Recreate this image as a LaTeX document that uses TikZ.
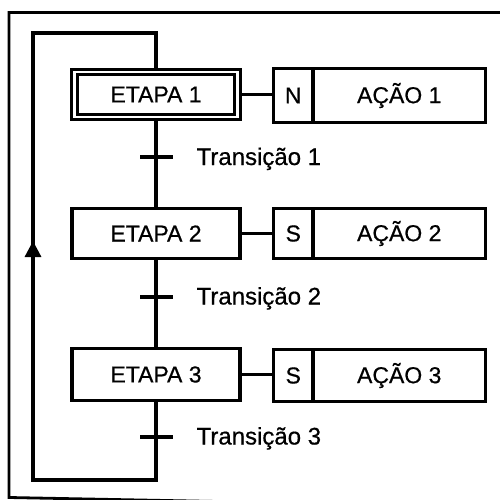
\documentclass[tikz,border=0pt]{standalone}
\usepackage{fontspec}
\setmainfont{Liberation Sans}
\newfontfamily\gfont{Liberation Sans}[FakeBold=0.6]
\usetikzlibrary{arrows.meta}
\begin{document}
\begin{tikzpicture}[x=1pt,y=-1pt,line width=3.2pt,line join=miter,
  box/.style={draw,rectangle,inner sep=0pt,font=\gfont\fontsize{23}{26}\selectfont},
  lbl/.style={inner sep=0pt,anchor=base west,font=\gfont\fontsize{24}{28}\selectfont},
  tick/.style={line width=3.2pt}]
\useasboundingbox (0,0) rectangle (499,500);
% outer frame
\draw[line width=2.8pt] (505,12.5) -- (9,12.5) -- (9,497.5) -- (505,507);
% steps
\node[box,double,double distance=2.5pt,outer sep=4.45pt,minimum width=163pt,minimum height=45pt] (e1) at (156,94.5) {ETAPA 1};
\node[box,minimum width=168pt,minimum height=50pt] (e2) at (156,233.5) {ETAPA 2};
\node[box,minimum width=168pt,minimum height=52pt] (e3) at (156,374.5) {ETAPA 3};
% actions
\node[box,minimum width=39.5pt,minimum height=54pt] (q1) at (293.25,95.5) {N};
\node[box,minimum width=172.5pt,minimum height=54pt] (a1) at (399.25,95.5) {AÇÃO 1};
\node[box,minimum width=39.5pt,minimum height=50pt] (q2) at (293.25,233.5) {S};
\node[box,minimum width=172.5pt,minimum height=50pt] (a2) at (399.25,233.5) {AÇÃO 2};
\node[box,minimum width=39.5pt,minimum height=52pt] (q3) at (293.25,375.5) {S};
\node[box,minimum width=172.5pt,minimum height=52pt] (a3) at (399.25,375.5) {AÇÃO 3};
% step-action links
\draw (e1.east) -- (e1.east -| q1.west);
\draw (e2.east) -- (q2.west);
\draw (e3.east) -- (e3.east -| q3.west);
% transitions
\coordinate (t1) at (156,157);
\coordinate (t2) at (156,297);
\coordinate (t3) at (156,437);
\draw (e1.south) -- (t1) -- (e2.north);
\draw (e2.south) -- (t2) -- (e3.north);
\draw[tick] ([xshift=-16pt]t1) -- ([xshift=17pt]t1);
\draw[tick] ([xshift=-16pt]t2) -- ([xshift=17pt]t2);
\draw[tick] ([xshift=-16pt]t3) -- ([xshift=17pt]t3);
\node[lbl] (l1) at (195,165) {Transição 1};
\node[lbl] (l2) at (195,304.5) {Transição 2};
\node[lbl] (l3) at (195,444.5) {Transição 3};
% return loop
\coordinate (bb) at (156,480);
\coordinate (bl) at (33,480);
\coordinate (tl) at (33,33);
\coordinate (tr) at (156,33);
\draw (e3.south) -- (t3) -- (bb) -- (bl) -- (tl) -- (tr) -- (e1.north);
\coordinate (ab) at (33,258);
\coordinate (at) at (33,241);
\draw[-{Triangle[width=16pt,length=16pt]}] (ab) -- (at);
\end{tikzpicture}
\end{document}
